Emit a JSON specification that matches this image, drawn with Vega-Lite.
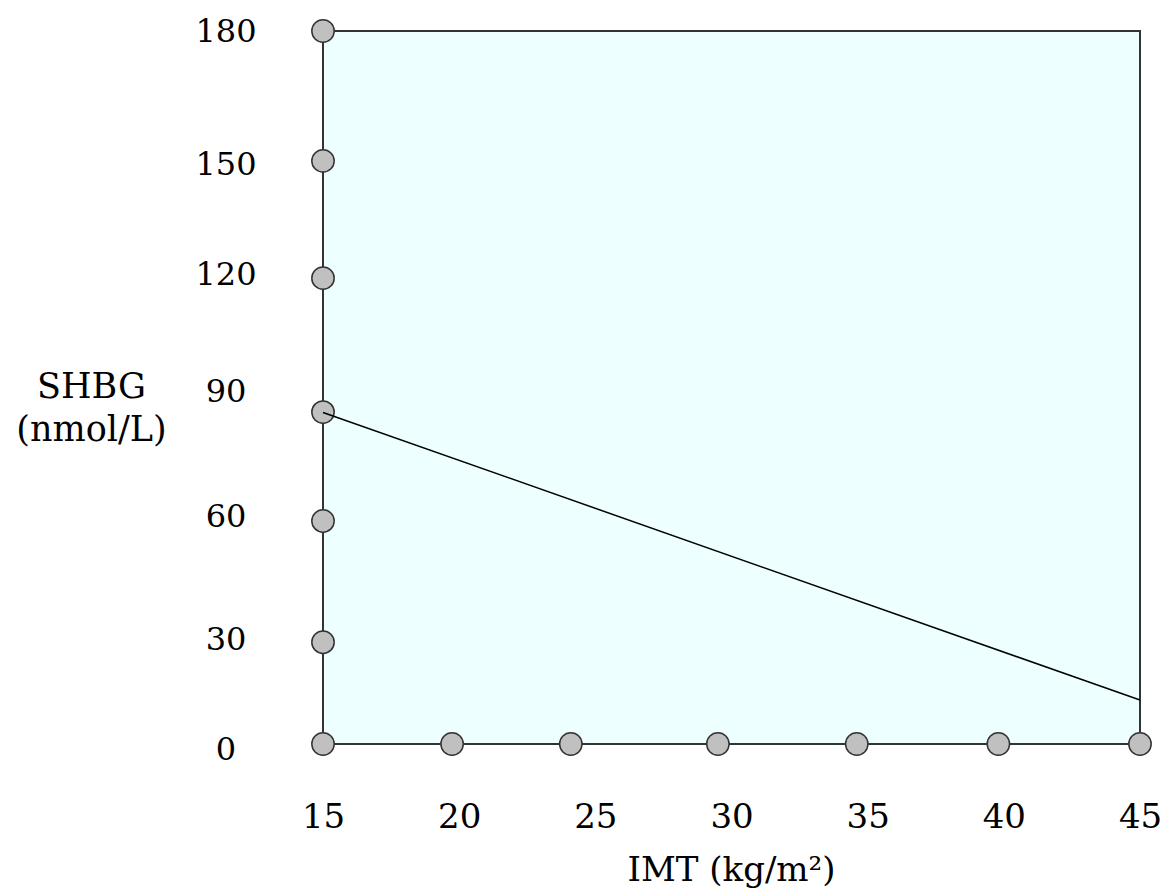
{
  "$schema": "https://vega.github.io/schema/vega-lite/v6.json",
  "width": 817,
  "height": 713,
  "autosize": {"type": "none"},
  "padding": {"left": 323, "top": 31, "right": 21, "bottom": 146},
  "background": "white",
  "config": {
    "view": {"fill": "#EEFFFF", "stroke": "#333333", "strokeWidth": 2},
    "font": "DejaVu Serif"
  },
  "datasets": {
    "markers": [
      {"bmi": 15, "shbg": 180},
      {"bmi": 15, "shbg": 147.2},
      {"bmi": 15, "shbg": 117.6},
      {"bmi": 15, "shbg": 83.8},
      {"bmi": 15, "shbg": 56.3},
      {"bmi": 15, "shbg": 25.7},
      {"bmi": 15, "shbg": 0},
      {"bmi": 19.74, "shbg": 0},
      {"bmi": 24.1, "shbg": 0},
      {"bmi": 29.5, "shbg": 0},
      {"bmi": 34.6, "shbg": 0},
      {"bmi": 39.8, "shbg": 0},
      {"bmi": 45, "shbg": 0}
    ],
    "fit": [
      {"bmi": 15, "shbg": 83.7},
      {"bmi": 45, "shbg": 11.1}
    ],
    "ylabels": [
      {"label": "180", "pos": 179.7},
      {"label": "150", "pos": 146.2},
      {"label": "120", "pos": 118.4},
      {"label": "90", "pos": 88.9},
      {"label": "60", "pos": 57.3},
      {"label": "30", "pos": 26.3},
      {"label": "0", "pos": -1.5}
    ]
  },
  "layer": [
    {
      "data": {"name": "markers"},
      "mark": {"type": "point", "shape": "circle", "filled": true, "fill": "#C0C0C0", "stroke": "#333333", "strokeWidth": 1.5, "size": 500, "opacity": 1, "clip": false},
      "encoding": {
        "x": {
          "field": "bmi", "type": "quantitative",
          "scale": {"domain": [15, 45], "nice": false, "zero": false},
          "axis": {
            "values": [15, 20, 25, 30, 35, 40, 45],
            "title": "IMT (kg/m²)",
            "domain": false, "ticks": false, "tickSize": 0, "grid": false,
            "labelFont": "DejaVu Serif", "labelFontSize": 34, "labelColor": "black",
            "labelPadding": 73, "labelBaseline": "middle", "labelFlush": false, "labelOverlap": false,
            "titleFont": "DejaVu Serif", "titleFontSize": 34, "titleFontWeight": "normal", "titleColor": "black",
            "titleX": 408, "titleY": 136, "titleBaseline": "alphabetic", "titleAlign": "center"
          }
        },
        "y": {
          "field": "shbg", "type": "quantitative",
          "scale": {"domain": [0, 180], "nice": false},
          "axis": {
            "labels": false, "ticks": false, "domain": false, "grid": false,
            "title": ["SHBG", "(nmol/L)"],
            "titleFont": "DejaVu Serif", "titleAngle": 0, "titleX": -232, "titleY": 338,
            "titleBaseline": "top", "titleAlign": "center", "titleFontSize": 35,
            "titleFontWeight": "normal", "titleLineHeight": 43, "titleColor": "black"
          }
        }
      }
    },
    {
      "data": {"name": "fit"},
      "mark": {"type": "line", "color": "black", "strokeWidth": 1.5},
      "encoding": {
        "x": {"field": "bmi", "type": "quantitative"},
        "y": {"field": "shbg", "type": "quantitative"}
      }
    },
    {
      "data": {"name": "ylabels"},
      "mark": {"type": "text", "align": "center", "baseline": "middle", "dx": -97, "fontSize": 32, "font": "DejaVu Serif", "color": "black", "clip": false},
      "encoding": {
        "x": {"datum": 15, "type": "quantitative"},
        "y": {"field": "pos", "type": "quantitative"},
        "text": {"field": "label"}
      }
    }
  ]
}
